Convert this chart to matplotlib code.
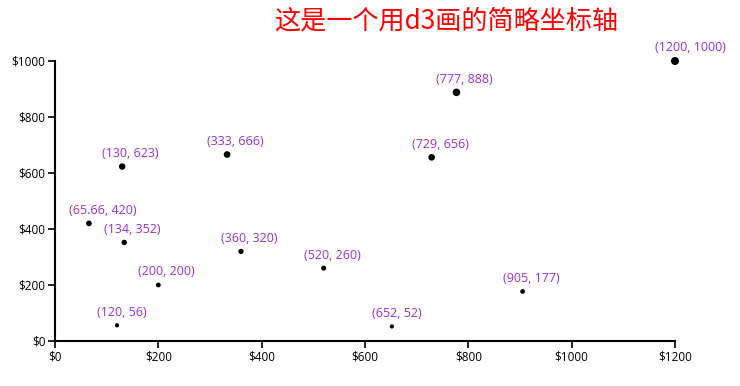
import numpy as np
import matplotlib
matplotlib.use('Agg')
import matplotlib.pyplot as plt
from matplotlib.ticker import FuncFormatter

plt.rcParams['font.family'] = ['Noto Sans CJK SC', 'DejaVu Sans']

# data points (x, y)
xs = [65.66, 130, 333, 777, 729, 134, 360, 520, 905, 200, 120, 652, 1200]
ys = [420, 623, 666, 888, 656, 352, 320, 260, 177, 200, 56, 52, 1000]
xticks = [0, 200, 400, 600, 800, 1000, 1200]
yticks = [0, 200, 400, 600, 800, 1000]
title = "这是一个用d3画的简略坐标轴"

W, H = 740, 386
fig = plt.figure(figsize=(W / 100, H / 100), dpi=100)
ax = fig.add_axes([55 / W, (H - 341) / H, 620 / W, 280 / H])

# radius in px grows with y, like an r scale 0..max -> 2..4
r_px = 2 + 2 * np.array(ys) / max(ys)
s = (2 * r_px * 72 / 100) ** 2
ax.scatter(xs, ys, s=s, color='black', zorder=3, clip_on=False, linewidths=0)

# labels start 20px left of the point, a little above it
for x, y in zip(xs, ys):
    ax.annotate("(%g, %g)" % (x, y), (x, y), xytext=(-14.4, 4.8),
                textcoords='offset points', ha='left', va='bottom',
                color='#9a2fdb', fontsize=9, family=['Open Sans', 'DejaVu Sans'])

ax.set_xlim(0, 1200)
ax.set_ylim(0, 1000)
ax.set_xticks(xticks)
ax.set_yticks(yticks)
fmt = FuncFormatter(lambda v, p: "$%d" % v)
ax.xaxis.set_major_formatter(fmt)
ax.yaxis.set_major_formatter(fmt)
for lab in ax.get_xticklabels() + ax.get_yticklabels():
    lab.set_family(['Open Sans', 'DejaVu Sans'])
ax.tick_params(length=5, width=1.2, labelsize=8.5, pad=2, colors='black')

ax.spines['top'].set_visible(False)
ax.spines['right'].set_visible(False)
ax.spines['left'].set_linewidth(1.5)
ax.spines['bottom'].set_linewidth(1.5)

fig.text(446 / W, 1 - 21 / H, title, color='red', fontsize=18.8,
         ha='center', va='center')

fig.savefig('out.png', dpi=100)
